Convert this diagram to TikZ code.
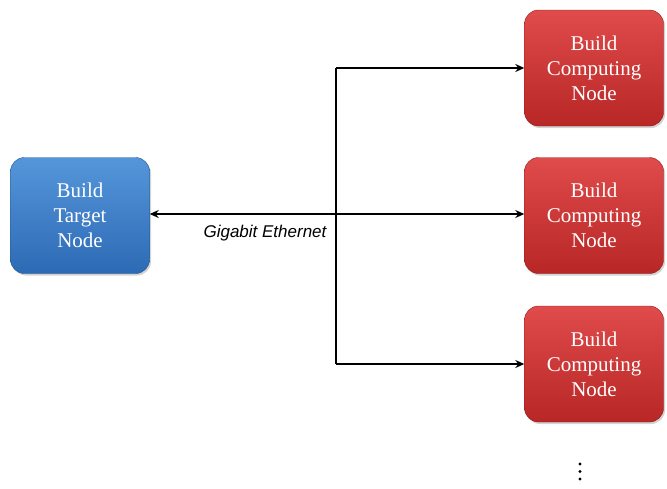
\documentclass[tikz,border=0pt]{standalone}
\usepackage{fontspec}
\setmainfont{Liberation Serif}
\newfontfamily\labelfont{Liberation Sans}
\usetikzlibrary{arrows.meta,shadows}
\definecolor{bluetop}{HTML}{5596DA}
\definecolor{bluebot}{HTML}{2D6AB5}
\definecolor{redtop}{HTML}{E04B4B}
\definecolor{redbot}{HTML}{B82626}
\tikzset{
  nodebox/.style={rounded corners=14pt, minimum width=139pt, minimum height=116pt,
    align=center, text=white, font=\fontsize{21}{25}\selectfont,
    drop shadow={shadow xshift=1.5pt, shadow yshift=-2pt, opacity=0.35}},
  bluebox/.style={nodebox, top color=bluetop, bottom color=bluebot, draw=bluebot!80!black, line width=0.4pt},
  redbox/.style={nodebox, top color=redtop, bottom color=redbot, draw=redbot!80!black, line width=0.4pt},
  conn/.style={line width=1.8pt, black},
  tip/.style={-{Stealth[length=9pt,width=8pt]}},
  dot/.style={circle, fill=black, inner sep=0pt, minimum size=3.2pt}
}
\begin{document}
\begin{tikzpicture}[x=1pt,y=-1pt]
\useasboundingbox (0,0) rectangle (667,488);
\node[bluebox] (target) at (80,215.5) {Build\\Target\\Node};
\node[redbox] (c1) at (594,68) {Build\\Computing\\Node};
\node[redbox] (c2) at (594,215.5) {Build\\Computing\\Node};
\node[redbox] (c3) at (594,364) {Build\\Computing\\Node};
\coordinate (top) at (336,68);
\coordinate (mid) at (336,214);
\coordinate (bot) at (336,364);
\draw[conn] (top) -- (bot);
\draw[conn,tip] (top) -- (c1.west);
\draw[conn,tip] (bot) -- (c3.west);
\draw[conn,{Stealth[length=9pt,width=8pt]}-{Stealth[length=9pt,width=8pt]}] (target.east |- mid) -- (c2.west |- mid);
\node[font=\labelfont\itshape\fontsize{17}{19}\selectfont] (lbl) at (265,233) {Gigabit Ethernet};
\node[dot] (d1) at (580,464) {};
\node[dot] (d2) at (580,471.5) {};
\node[dot] (d3) at (580,479) {};
\end{tikzpicture}
\end{document}
